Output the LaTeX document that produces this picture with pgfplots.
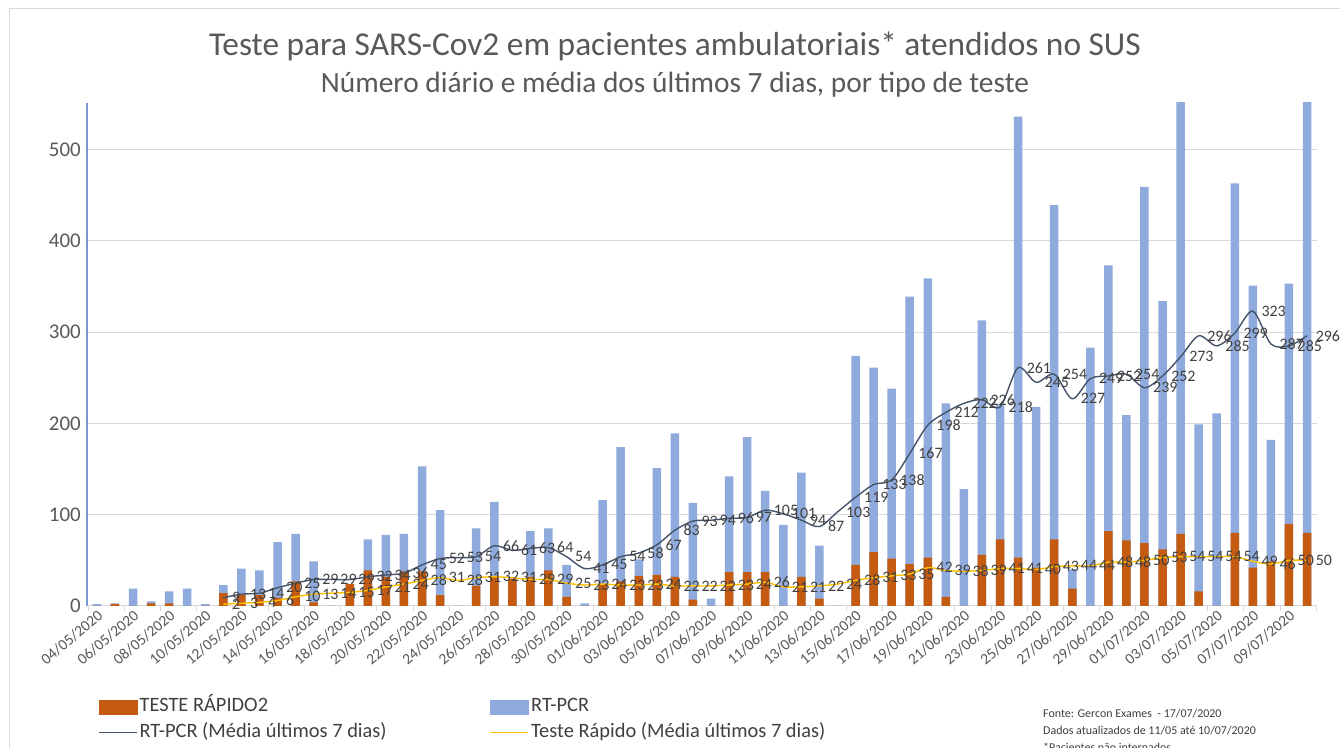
\documentclass[border=0pt]{standalone}
\usepackage{fontspec}
\setmainfont{Carlito}
\usepackage{pgfplots}
\pgfplotsset{compat=1.18}
\usepackage{pgfplotstable}
\definecolor{rtblue}{HTML}{8FAADC}
\definecolor{axblue}{HTML}{7A98D2}
\definecolor{troran}{HTML}{C55A11}
\definecolor{rtline}{HTML}{44546A}
\definecolor{trline}{HTML}{FFC000}
\definecolor{txtgray}{HTML}{595959}
\definecolor{lblgray}{HTML}{404040}
\definecolor{gridgray}{HTML}{D9D9D9}

\pgfplotstableread{
i b o
0 2 0
1 3 2
2 19 0
3 5 3
4 16 3
5 19 0
6 2 0
7 23 14
8 41 12
9 39 12
10 70 9
11 79 27
12 49 4
13 0 0
14 24 24
15 73 39
16 78 32
17 79 38
18 153 38
19 105 12
20 0 0
21 85 22
22 114 33
23 30 30
24 82 32
25 85 39
26 45 10
27 3 0
28 116 24
29 174 27
30 51 33
31 151 34
32 189 32
33 113 7
34 8 0
35 142 37
36 185 37
37 126 37
38 89 0
39 146 32
40 66 8
41 0 0
42 274 45
43 261 59
44 238 52
45 339 46
46 359 53
47 222 10
48 128 0
49 313 56
50 221 73
51 536 53
52 218 42
53 439 73
54 40 19
55 283 0
56 373 82
57 209 72
58 459 69
59 334 62
60 600 79
61 199 16
62 211 0
63 463 80
64 351 42
65 182 49
66 353 90
67 600 80
}\bars

\pgfplotstableread{
i r t
7 9 2
8 13 3
9 14 4
10 20 6
11 25 10
12 29 13
13 29 14
14 29 15
15 32 17
16 34 21
17 36 24
18 45 28
19 52 31
20 53 28
21 54 31
22 66 32
23 61 31
24 63 29
25 64 29
26 54 25
27 41 23
28 45 24
29 54 23
30 58 23
31 67 24
32 83 22
33 93 22
34 94 22
35 96 23
36 97 24
37 105 26
38 101 21
39 94 21
40 87 22
41 103 24
42 119 28
43 133 31
44 138 33
45 167 35
46 198 42
47 212 39
48 222 38
49 226 39
50 218 41
51 261 41
52 245 40
53 254 43
54 227 44
55 249 44
56 252 48
57 254 48
58 239 50
59 252 53
60 273 54
61 296 54
62 285 54
63 299 54
64 323 49
65 287 46
66 285 50
67 296 50
}\avgs

\begin{document}
\begin{tikzpicture}
\useasboundingbox (0,0) rectangle (1340bp,748bp);
\fill[white] (0,0) rectangle (1340bp,748bp);
\draw[gridgray, line width=1bp] (9bp,0) -- (9bp,739bp) -- (1340bp,739bp);

\node[anchor=base, text=txtgray, font=\fontsize{33.5}{33.5}\selectfont] at (675bp,692bp) {Teste para SARS-Cov2 em pacientes ambulatoriais* atendidos no SUS};
\node[anchor=base, text=txtgray, font=\fontsize{29.5}{29.5}\selectfont] at (675bp,655bp) {Número diário e média dos últimos 7 dias, por tipo de teste};

\node[anchor=base west, text=lblgray, font=\fontsize{12}{12}\selectfont, inner sep=0pt] at (1043bp,31bp) {Fonte: Gercon Exames \ - 17/07/2020};
\node[anchor=base west, text=lblgray, font=\fontsize{12}{12}\selectfont, inner sep=0pt] at (1043bp,14bp) {Dados atualizados de 11/05 até 10/07/2020};
\node[anchor=base west, text=lblgray, font=\fontsize{12}{12}\selectfont, inner sep=0pt] at (1043bp,-3bp) {*Pacientes não internados};

\begin{axis}[
  at={(87bp,142bp)}, anchor=south west, scale only axis,
  width=1230bp, height=503bp,
  xmin=-0.55, xmax=67.55, ymin=0, ymax=551,
  axis lines*=left,
  x axis line style={draw=gridgray, line width=1bp},
  y axis line style={draw=axblue, line width=1.3bp},
  ytick={0,100,...,500},
  ymajorgrids, grid style={draw=gridgray, line width=1bp},
  xtick={0,2,...,66},
  xticklabels={04/05/2020,06/05/2020,08/05/2020,10/05/2020,12/05/2020,14/05/2020,16/05/2020,18/05/2020,20/05/2020,22/05/2020,24/05/2020,26/05/2020,28/05/2020,30/05/2020,01/06/2020,03/06/2020,05/06/2020,07/06/2020,09/06/2020,11/06/2020,13/06/2020,15/06/2020,17/06/2020,19/06/2020,21/06/2020,23/06/2020,25/06/2020,27/06/2020,29/06/2020,01/07/2020,03/07/2020,05/07/2020,07/07/2020,09/07/2020},
  major tick length=0pt,
  tick style={draw=gridgray, line width=0.8bp},
  extra x ticks={-0.5,1.5,...,67.5},
  extra x tick labels={},
  extra x tick style={major tick length=5bp, tick align=outside},
  xticklabel style={rotate=40, anchor=north east, font=\fontsize{15.5}{15.5}\selectfont, text=txtgray, inner sep=2bp},
  yticklabel style={font=\fontsize{21}{21}\selectfont, text=txtgray, anchor=east, inner sep=0pt, xshift=-6bp},
  /pgf/number format/assume math mode=true,
  legend columns=2,
  legend cell align=left,
  legend style={at={(axis description cs:0.0065,-0.172)}, anchor=north west, draw=none, fill=none,
    font=\fontsize{20.5}{20.5}\selectfont, text=lblgray, row sep=2bp,
    nodes={inner sep=2bp, text height=15bp, text depth=5bp},
    /tikz/every even column/.append style={column sep=101bp}},
]
\addplot[ybar, bar width=8.5bp, bar shift=0pt, fill=rtblue, draw=none, forget plot] table[x=i, y=b] {\bars};
\addplot[ybar, bar width=8.5bp, bar shift=0pt, fill=troran, draw=none, forget plot] table[x=i, y=o] {\bars};
\addplot[trline, line width=1.4bp, smooth, no markers, forget plot,
  nodes near coords, every node near coord/.append style={anchor=west, xshift=7bp, text=lblgray, font=\fontsize{16}{16}\selectfont, inner sep=1bp}]
  table[x=i, y=t] {\avgs};
\addplot[rtline, line width=1.4bp, smooth, no markers, forget plot,
  nodes near coords, every node near coord/.append style={anchor=west, xshift=7bp, text=lblgray, font=\fontsize{16}{16}\selectfont, inner sep=1bp}]
  table[x=i, y=r] {\avgs};

\addlegendimage{legend image code/.code={\fill[troran] (0bp,-7bp) rectangle (38bp,7bp);}}
\addlegendentry{TESTE RÁPIDO2}
\addlegendimage{legend image code/.code={\fill[rtblue] (0bp,-7bp) rectangle (38bp,7bp);}}
\addlegendentry{RT-PCR}
\addlegendimage{legend image code/.code={\draw[rtline, line width=1.4bp] (0bp,0bp) -- (38bp,0bp);}}
\addlegendentry{RT-PCR (Média últimos 7 dias)}
\addlegendimage{legend image code/.code={\draw[trline, line width=1.4bp] (0bp,0bp) -- (38bp,0bp);}}
\addlegendentry{Teste Rápido (Média últimos 7 dias)}
\end{axis}
\end{tikzpicture}
\end{document}
